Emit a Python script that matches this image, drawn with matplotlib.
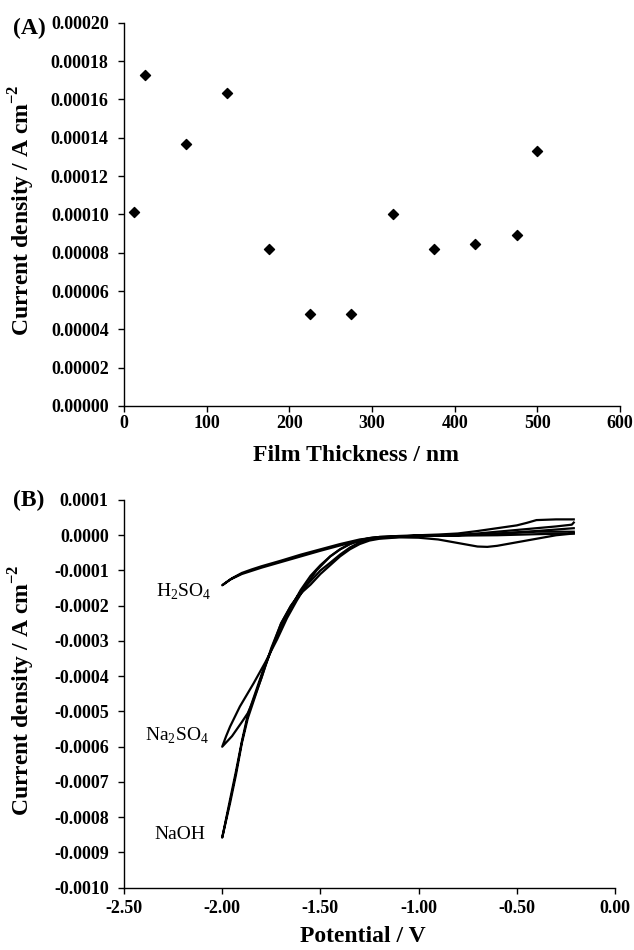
import matplotlib
matplotlib.use("Agg")
import matplotlib.pyplot as plt
from matplotlib.ticker import FixedLocator, FormatStrFormatter

plt.rcParams['font.family'] = ['Liberation Serif', 'DejaVu Serif']
plt.rcParams['mathtext.fontset'] = 'custom'
plt.rcParams['mathtext.rm'] = 'Liberation Serif'
plt.rcParams['mathtext.bf'] = 'Liberation Serif:bold'

# ---------------- Panel A data ----------------
thickness_nm = [12.5, 25, 75, 125, 175, 225, 275, 325, 375, 425, 475, 500]
current_A = [1.012e-4, 1.725e-4, 1.365e-4, 1.635e-4, 0.819e-4, 0.48e-4,
             0.48e-4, 1.002e-4, 0.819e-4, 0.843e-4, 0.89e-4, 1.332e-4]
yticks_A = [0.0, 0.00002, 0.00004, 0.00006, 0.00008, 0.00010, 0.00012,
            0.00014, 0.00016, 0.00018, 0.00020]
xticks_A = [0, 100, 200, 300, 400, 500, 600]

# ---------------- Panel B data (potential V, current density x1e-4 A cm-2) ----------------
h2so4_v = [-0.21, -0.3, -0.4, -0.45, -0.5, -0.6, -0.7, -0.8, -0.9, -1.0, -1.1, -1.2, -1.3,
           -1.4, -1.5, -1.6, -1.7, -1.8, -1.85, -1.9, -1.95, -2.0,
           -1.96, -1.9, -1.8, -1.7, -1.6, -1.5, -1.4, -1.3, -1.2, -1.0, -0.8, -0.6, -0.4, -0.21]
h2so4_j = [0.45, 0.45, 0.43, 0.35, 0.28, 0.2, 0.12, 0.05, 0.02, 0.0, -0.02, -0.05, -0.12,
           -0.25, -0.40, -0.55, -0.72, -0.88, -0.97, -1.07, -1.22, -1.42,
           -1.26, -1.1, -0.92, -0.76, -0.6, -0.44, -0.29, -0.15, -0.06, -0.01, 0.0, 0.05, 0.12, 0.2]

na2so4_v = [-0.21, -0.3, -0.4, -0.5, -0.6, -0.65, -0.7, -0.8, -0.9, -1.0, -1.1, -1.2, -1.25,
            -1.3, -1.35, -1.4, -1.45, -1.5, -1.55, -1.6, -1.65, -1.7, -1.75, -1.8, -1.85,
            -1.87, -1.9, -1.95, -2.0,
            -1.98, -1.96, -1.91, -1.84, -1.78, -1.72, -1.67, -1.62, -1.57, -1.52, -1.45,
            -1.4, -1.35, -1.3, -1.25, -1.2, -1.0, -0.8, -0.6, -0.4, -0.21]
na2so4_j = [0.05, 0.0, -0.1, -0.2, -0.3, -0.33, -0.32, -0.22, -0.12, -0.07, -0.06, -0.1, -0.15,
            -0.25, -0.4, -0.6, -0.85, -1.1, -1.4, -1.65, -2.0, -2.5, -3.2, -4.05, -4.8,
            -5.05, -5.3, -5.7, -6.0,
            -5.7, -5.43, -4.86, -4.2, -3.6, -2.95, -2.35, -1.85, -1.4, -1.0, -0.6,
            -0.4, -0.25, -0.15, -0.08, -0.05, -0.02, 0.0, 0.04, 0.1, 0.1]

naoh_v = [-0.21, -0.22, -0.3, -0.4, -0.5, -0.6, -0.7, -0.8, -1.0, -1.1, -1.2, -1.25, -1.3,
          -1.35, -1.4, -1.45, -1.5, -1.55, -1.6, -1.65, -1.7, -1.74, -1.78, -1.81, -1.84,
          -1.87, -1.9, -1.93, -1.96, -2.0,
          -1.96, -1.93, -1.9, -1.87, -1.83, -1.79, -1.75, -1.7, -1.65, -1.6, -1.55, -1.5,
          -1.45, -1.4, -1.35, -1.3, -1.25, -1.2, -1.0, -0.8, -0.6, -0.4, -0.21]
naoh_j = [0.36, 0.3, 0.25, 0.2, 0.15, 0.1, 0.05, 0.0, -0.03, -0.05, -0.08, -0.12, -0.2,
          -0.35, -0.55, -0.78, -1.0, -1.3, -1.6, -2.0, -2.5, -3.1, -3.7, -4.2, -4.7,
          -5.2, -5.9, -6.8, -7.6, -8.58,
          -7.5, -6.7, -5.85, -5.1, -4.45, -3.8, -3.25, -2.6, -2.05, -1.55, -1.15, -0.85,
          -0.6, -0.4, -0.25, -0.14, -0.08, -0.05, -0.02, -0.01, 0.0, 0.03, 0.05]

labels_B = ['H$_2$SO$_4$', 'Na$_2$SO$_4$', 'NaOH']
label_pos_v = [-2.055, -2.065, -2.085]
label_pos_j = [-1.6, -5.7, -8.48]

yticks_B = [-0.0010, -0.0009, -0.0008, -0.0007, -0.0006, -0.0005, -0.0004,
            -0.0003, -0.0002, -0.0001, 0.0, 0.0001]
xticks_B = [-2.50, -2.00, -1.50, -1.00, -0.50, 0.00]

W, H = 634, 950
fig = plt.figure(figsize=(W / 100, H / 100), dpi=100)

tick_fs = 13
label_fs = 17


def style(ax, xpad):
    for s in ['top', 'right']:
        ax.spines[s].set_visible(False)
    for s in ['left', 'bottom']:
        ax.spines[s].set_linewidth(1.0)
    ax.tick_params(direction='out', length=4, width=1, labelsize=tick_fs)
    ax.tick_params(axis='y', pad=7)
    ax.tick_params(axis='x', pad=xpad)
    for lab in ax.get_xticklabels() + ax.get_yticklabels():
        lab.set_fontweight('bold')


# ---------------- Panel A ----------------
axA = fig.add_axes([124 / W, 1 - 406 / H, 496 / W, (406 - 22.7) / H])
axA.scatter(thickness_nm, current_A, marker='D', s=26, color='black', zorder=3)
axA.set_xlim(0, 600)
axA.set_ylim(0, 0.0002)
axA.xaxis.set_major_locator(FixedLocator(xticks_A))
axA.yaxis.set_major_locator(FixedLocator(yticks_A))
axA.yaxis.set_major_formatter(FormatStrFormatter('%.5f'))
axA.xaxis.set_major_formatter(FormatStrFormatter('%d'))
style(axA, 2.5)
axA.set_xlabel('Film Thickness / nm', fontsize=label_fs, fontweight='bold')
axA.set_ylabel('Current density / A cm$^{\\mathbf{-2}}$', fontsize=label_fs, fontweight='bold')
axA.xaxis.set_label_coords(0.468, -0.128)
axA.xaxis.label.set_va('center')
axA.yaxis.set_label_coords(-0.206, 0.511)
axA.yaxis.label.set_va('center')
fig.text(29 / W, 1 - 28 / H, '(A)', fontsize=label_fs, fontweight='bold', ha='center', va='center')

# ---------------- Panel B ----------------
axB = fig.add_axes([124 / W, 1 - 887.7 / H, 491 / W, (887.7 - 500) / H])
for v, j in [(h2so4_v, h2so4_j), (na2so4_v, na2so4_j), (naoh_v, naoh_j)]:
    axB.plot(v, [x * 1e-4 for x in j], color='black', lw=1.6, solid_joinstyle='round')
for t, xv, yv in zip(labels_B, label_pos_v, label_pos_j):
    axB.text(xv, yv * 1e-4, t, fontsize=14, ha='right', va='center')
axB.set_xlim(-2.5, 0.0)
axB.set_ylim(-0.0010, 0.0001)
axB.xaxis.set_major_locator(FixedLocator(xticks_B))
axB.yaxis.set_major_locator(FixedLocator(yticks_B))
axB.yaxis.set_major_formatter(FormatStrFormatter('%.4f'))
axB.xaxis.set_major_formatter(FormatStrFormatter('%.2f'))
style(axB, 5)
axB.set_xlabel('Potential / V', fontsize=label_fs, fontweight='bold')
axB.set_ylabel('Current density / A cm$^{\\mathbf{-2}}$', fontsize=label_fs, fontweight='bold')
axB.xaxis.set_label_coords(0.487, -0.127)
axB.xaxis.label.set_va('center')
axB.yaxis.set_label_coords(-0.208, 0.51)
axB.yaxis.label.set_va('center')
fig.text(29 / W, 1 - 500 / H, '(B)', fontsize=label_fs, fontweight='bold', ha='center', va='center')

fig.savefig('out.png', dpi=100)
